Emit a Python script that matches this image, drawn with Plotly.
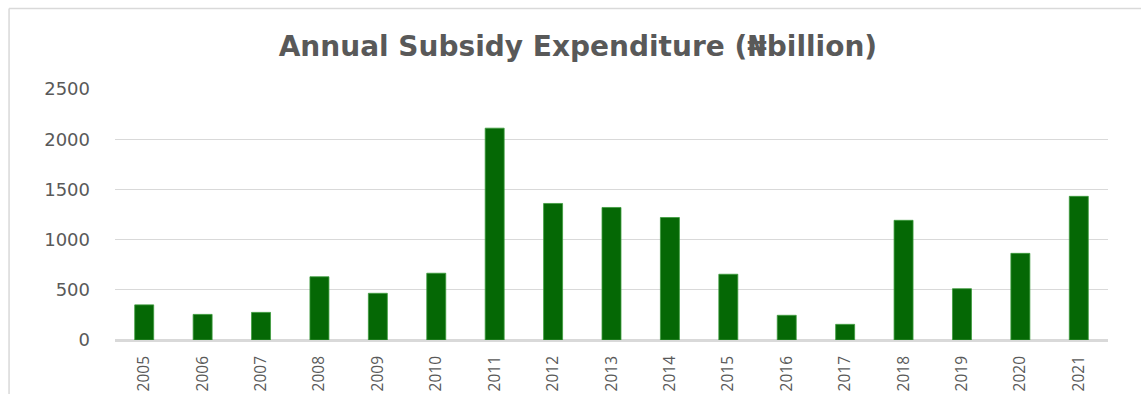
import plotly.graph_objects as go

# Annual fuel subsidy spending, in billions of naira
years = ["2005", "2006", "2007", "2008", "2009", "2010", "2011", "2012", "2013",
         "2014", "2015", "2016", "2017", "2018", "2019", "2020", "2021"]
subsidy_bn = [350, 255, 275, 630, 465, 665, 2110, 1360, 1320,
              1220, 655, 246, 156, 1192, 511, 863, 1431]
y_ticks = [0, 500, 1000, 1500, 2000, 2500]

TEXT_GREY = "#595959"
GRID_GREY = "#d9d9d9"

fig = go.Figure(
    go.Bar(
        x=years,
        y=subsidy_bn,
        marker=dict(color="#056805", line=dict(color="#3c9a3c", width=0.8)),
        hoverinfo="x+y",
    )
)

fig.update_layout(
    width=1141,
    height=394,
    margin=dict(l=115, r=33, t=89, b=54, autoexpand=False),
    paper_bgcolor="white",
    plot_bgcolor="white",
    bargap=0.675,
    showlegend=False,
    title=dict(
        text="<b>Annual Subsidy Expenditure (₦billion)</b>",
        x=0.5065,
        xanchor="center",
        y=0.883,
        yanchor="middle",
        font=dict(family="DejaVu Sans", size=28, color=TEXT_GREY),
    ),
    xaxis=dict(
        type="category",
        tickangle=-90,
        tickfont=dict(family="Open Sans", size=15.5, color=TEXT_GREY),
        showgrid=False,
        showline=True,
        linecolor=GRID_GREY,
        linewidth=1.5,
        ticks="",
        ticklabelstandoff=8,
        automargin=False,
    ),
    yaxis=dict(
        range=[0, 2500],
        tickvals=y_ticks,
        tickfont=dict(family="DejaVu Sans", size=18, color=TEXT_GREY),
        showgrid=True,
        gridcolor=GRID_GREY,
        gridwidth=1,
        zeroline=True,
        zerolinecolor=GRID_GREY,
        zerolinewidth=1.5,
        ticks="",
        ticklabelstandoff=24,
        automargin=False,
    ),
    shapes=[
        # light frame around the chart area (top and left edges)
        dict(type="line", xref="paper", yref="paper",
             x0=-0.1067, x1=1.04, y0=1.3207, y1=1.3207,
             line=dict(color=GRID_GREY, width=1.5)),
        dict(type="line", xref="paper", yref="paper",
             x0=-0.1067, x1=-0.1067, y0=1.3207, y1=-0.25,
             line=dict(color=GRID_GREY, width=1.5)),
    ],
)

fig.write_html("out.html")
